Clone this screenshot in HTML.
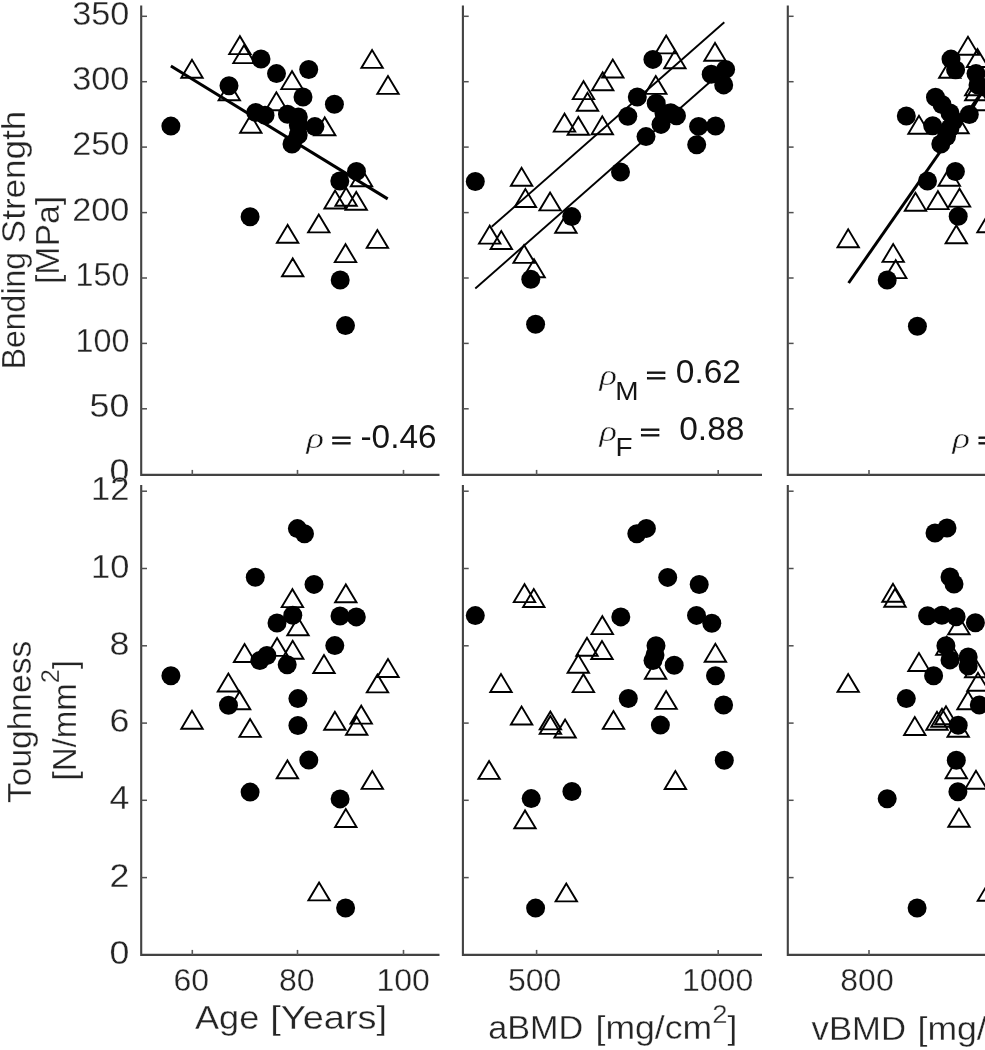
<!DOCTYPE html>
<html><head><meta charset="utf-8"><title>Figure</title>
<style>
html,body{margin:0;padding:0;background:#fff;}
body{width:985px;height:1050px;overflow:hidden;}
svg{display:block;filter:blur(0.62px);}
text{font-family:"Liberation Sans",sans-serif;stroke:#fff;stroke-width:0.3px;}
.tk{font-size:32px;fill:#242424;}
.tky{font-size:33.4px;}
.lb{font-size:32.5px;fill:#242424;}
.rho{font-family:"Liberation Serif",serif;font-style:italic;font-size:29px;fill:#151515;stroke:#fff;stroke-width:0.45px;}
.eq.eqs{stroke:#151515;stroke-width:1.4px;}
.eq{font-size:33.5px;fill:#151515;stroke:none;}
.sub{font-size:25px;fill:#151515;stroke:none;}
</style></head><body>
<svg width="985" height="1050" viewBox="0 0 985 1050">
<rect width="985" height="1050" fill="#fff"/>

<g>
<path d="M141.2,5.6 V474.9 H439.5" fill="none" stroke="#424242" stroke-width="2.1" stroke-linejoin="miter"/>
<path d="M141.2,408.8 h5.8" stroke="#505050" stroke-width="1.5"/>
<path d="M141.2,343.4 h5.8" stroke="#505050" stroke-width="1.5"/>
<path d="M141.2,278.0 h5.8" stroke="#505050" stroke-width="1.5"/>
<path d="M141.2,212.6 h5.8" stroke="#505050" stroke-width="1.5"/>
<path d="M141.2,147.1 h5.8" stroke="#505050" stroke-width="1.5"/>
<path d="M141.2,81.7 h5.8" stroke="#505050" stroke-width="1.5"/>
<path d="M141.2,16.3 h5.8" stroke="#505050" stroke-width="1.5"/>
<path d="M192.3,474.9 v-5" stroke="#5a5a5a" stroke-width="1.6"/>
<path d="M297.5,474.9 v-5" stroke="#5a5a5a" stroke-width="1.6"/>
<path d="M403.5,474.9 v-5" stroke="#5a5a5a" stroke-width="1.6"/>
<path d="M141.2,485.0 V954.9 H439.5" fill="none" stroke="#424242" stroke-width="2.1" stroke-linejoin="miter"/>
<path d="M141.2,877.6 h5.8" stroke="#505050" stroke-width="1.5"/>
<path d="M141.2,800.3 h5.8" stroke="#505050" stroke-width="1.5"/>
<path d="M141.2,723.1 h5.8" stroke="#505050" stroke-width="1.5"/>
<path d="M141.2,645.8 h5.8" stroke="#505050" stroke-width="1.5"/>
<path d="M141.2,568.5 h5.8" stroke="#505050" stroke-width="1.5"/>
<path d="M141.2,491.2 h5.8" stroke="#505050" stroke-width="1.5"/>
<path d="M192.3,954.9 v-5" stroke="#5a5a5a" stroke-width="1.6"/>
<path d="M297.5,954.9 v-5" stroke="#5a5a5a" stroke-width="1.6"/>
<path d="M403.5,954.9 v-5" stroke="#5a5a5a" stroke-width="1.6"/>
<path d="M462.9,5.6 V474.9 H762" fill="none" stroke="#424242" stroke-width="2.1" stroke-linejoin="miter"/>
<path d="M462.9,408.8 h5.8" stroke="#505050" stroke-width="1.5"/>
<path d="M462.9,343.4 h5.8" stroke="#505050" stroke-width="1.5"/>
<path d="M462.9,278.0 h5.8" stroke="#505050" stroke-width="1.5"/>
<path d="M462.9,212.6 h5.8" stroke="#505050" stroke-width="1.5"/>
<path d="M462.9,147.1 h5.8" stroke="#505050" stroke-width="1.5"/>
<path d="M462.9,81.7 h5.8" stroke="#505050" stroke-width="1.5"/>
<path d="M462.9,16.3 h5.8" stroke="#505050" stroke-width="1.5"/>
<path d="M536.6,474.9 v-5" stroke="#5a5a5a" stroke-width="1.6"/>
<path d="M718.2,474.9 v-5" stroke="#5a5a5a" stroke-width="1.6"/>
<path d="M462.9,485.0 V954.9 H762" fill="none" stroke="#424242" stroke-width="2.1" stroke-linejoin="miter"/>
<path d="M462.9,877.6 h5.8" stroke="#505050" stroke-width="1.5"/>
<path d="M462.9,800.3 h5.8" stroke="#505050" stroke-width="1.5"/>
<path d="M462.9,723.1 h5.8" stroke="#505050" stroke-width="1.5"/>
<path d="M462.9,645.8 h5.8" stroke="#505050" stroke-width="1.5"/>
<path d="M462.9,568.5 h5.8" stroke="#505050" stroke-width="1.5"/>
<path d="M462.9,491.2 h5.8" stroke="#505050" stroke-width="1.5"/>
<path d="M536.6,954.9 v-5" stroke="#5a5a5a" stroke-width="1.6"/>
<path d="M718.2,954.9 v-5" stroke="#5a5a5a" stroke-width="1.6"/>
<path d="M787.8,5.6 V474.9 H986" fill="none" stroke="#424242" stroke-width="2.1" stroke-linejoin="miter"/>
<path d="M787.8,408.8 h5.8" stroke="#505050" stroke-width="1.5"/>
<path d="M787.8,343.4 h5.8" stroke="#505050" stroke-width="1.5"/>
<path d="M787.8,278.0 h5.8" stroke="#505050" stroke-width="1.5"/>
<path d="M787.8,212.6 h5.8" stroke="#505050" stroke-width="1.5"/>
<path d="M787.8,147.1 h5.8" stroke="#505050" stroke-width="1.5"/>
<path d="M787.8,81.7 h5.8" stroke="#505050" stroke-width="1.5"/>
<path d="M787.8,16.3 h5.8" stroke="#505050" stroke-width="1.5"/>
<path d="M869.0,474.9 v-5" stroke="#5a5a5a" stroke-width="1.6"/>
<path d="M787.8,485.0 V954.9 H986" fill="none" stroke="#424242" stroke-width="2.1" stroke-linejoin="miter"/>
<path d="M787.8,877.6 h5.8" stroke="#505050" stroke-width="1.5"/>
<path d="M787.8,800.3 h5.8" stroke="#505050" stroke-width="1.5"/>
<path d="M787.8,723.1 h5.8" stroke="#505050" stroke-width="1.5"/>
<path d="M787.8,645.8 h5.8" stroke="#505050" stroke-width="1.5"/>
<path d="M787.8,568.5 h5.8" stroke="#505050" stroke-width="1.5"/>
<path d="M787.8,491.2 h5.8" stroke="#505050" stroke-width="1.5"/>
<path d="M869.0,954.9 v-5" stroke="#5a5a5a" stroke-width="1.6"/>
</g>
<g class="tk tky" text-anchor="end">
<text x="129.4" y="482.4" textLength="19.9" lengthAdjust="spacingAndGlyphs">0</text>
<text x="129.4" y="417.0" textLength="39.8" lengthAdjust="spacingAndGlyphs">50</text>
<text x="129.4" y="351.6" textLength="53.9" lengthAdjust="spacingAndGlyphs">100</text>
<text x="129.4" y="286.2" textLength="53.9" lengthAdjust="spacingAndGlyphs">150</text>
<text x="129.4" y="220.8" textLength="57.2" lengthAdjust="spacingAndGlyphs">200</text>
<text x="129.4" y="155.3" textLength="57.2" lengthAdjust="spacingAndGlyphs">250</text>
<text x="129.4" y="89.9" textLength="57.2" lengthAdjust="spacingAndGlyphs">300</text>
<text x="129.4" y="24.5" textLength="57.2" lengthAdjust="spacingAndGlyphs">350</text>
<text x="129.4" y="964.0" textLength="19.9" lengthAdjust="spacingAndGlyphs">0</text>
<text x="129.4" y="886.7" textLength="19.9" lengthAdjust="spacingAndGlyphs">2</text>
<text x="129.4" y="809.4" textLength="19.9" lengthAdjust="spacingAndGlyphs">4</text>
<text x="129.4" y="732.2" textLength="19.9" lengthAdjust="spacingAndGlyphs">6</text>
<text x="129.4" y="654.9" textLength="19.9" lengthAdjust="spacingAndGlyphs">8</text>
<text x="129.4" y="577.6" textLength="38.3" lengthAdjust="spacingAndGlyphs">10</text>
<text x="129.4" y="500.3" textLength="38.3" lengthAdjust="spacingAndGlyphs">12</text>
</g>
<g class="tk" text-anchor="middle">
<text x="191.2" y="991.3">60</text>
<text x="296.8" y="991.3">80</text>
<text x="403.2" y="991.3">100</text>
<text x="534.6" y="991.3">500</text>
<text x="717.6" y="991.3">1000</text>
<text x="867" y="991.3">800</text>
</g>
<g class="lb">
<text x="195.0" y="1029.3" textLength="64.2" lengthAdjust="spacingAndGlyphs">Age</text>
<text x="270.3" y="1029.3" textLength="116.8" lengthAdjust="spacingAndGlyphs">[Years]</text>
<text x="488.3" y="1039.4" textLength="95" lengthAdjust="spacingAndGlyphs">aBMD</text>
<text x="595.5" y="1039.4" textLength="141.8" lengthAdjust="spacingAndGlyphs">[mg/cm<tspan font-size="25" dy="-16.5">2</tspan><tspan dy="16.5">]</tspan></text>
<text x="811.6" y="1040.2" textLength="94.4" lengthAdjust="spacingAndGlyphs">vBMD</text>
<text x="917.5" y="1040.2" textLength="141.8" lengthAdjust="spacingAndGlyphs">[mg/cm<tspan font-size="25" dy="-16.5">3</tspan><tspan dy="16.5">]</tspan></text>
<text transform="translate(25.3,369.2) rotate(-90)" textLength="117.2" lengthAdjust="spacingAndGlyphs">Bending</text>
<text transform="translate(25.3,243.2) rotate(-90)" textLength="132.4" lengthAdjust="spacingAndGlyphs">Strength</text>
<text transform="translate(59.2,284) rotate(-90)" textLength="88" lengthAdjust="spacingAndGlyphs">[MPa]</text>
<text transform="translate(30.9,803) rotate(-90)" textLength="162.2" lengthAdjust="spacingAndGlyphs">Toughness</text>
<text transform="translate(75.5,780.5) rotate(-90)" textLength="120.5" lengthAdjust="spacingAndGlyphs">[N/mm<tspan font-size="25" dy="-16.5">2</tspan><tspan dy="16.5">]</tspan></text>
</g>
<g stroke="#000" fill="none" stroke-linecap="butt">
<path d="M170.9,66 L387.7,198.9" stroke-width="3"/>
<path d="M491.7,226.8 L724.3,22.2" stroke-width="1.9"/>
<path d="M475.3,288.5 L725.6,68.2" stroke-width="1.9"/>
<path d="M848.6,283 L985,87.5" stroke-width="3"/>
</g>
<g fill="none" stroke="#000" stroke-width="1.9" stroke-linejoin="miter">
<path d="M192.0,59.8l-10.7,17.9h21.4zM239.9,36.2l-10.7,17.9h21.4zM244.0,45.2l-10.7,17.9h21.4zM229.3,82.4l-10.7,17.9h21.4zM292.0,71.2l-10.7,17.9h21.4zM276.4,92.3l-10.7,17.9h21.4zM250.8,114.8l-10.7,17.9h21.4zM372.1,50.0l-10.7,17.9h21.4zM388.0,76.0l-10.7,17.9h21.4zM324.7,117.4l-10.7,17.9h21.4zM361.5,168.3l-10.7,17.9h21.4zM335.1,190.6l-10.7,17.9h21.4zM346.1,187.8l-10.7,17.9h21.4zM356.2,191.9l-10.7,17.9h21.4zM318.8,214.5l-10.7,17.9h21.4zM287.6,224.9l-10.7,17.9h21.4zM377.4,230.0l-10.7,17.9h21.4zM345.5,244.2l-10.7,17.9h21.4zM292.7,258.4l-10.7,17.9h21.4z"/>
<path d="M583.5,81.2l-10.7,17.9h21.4zM587.5,92.8l-10.7,17.9h21.4zM564.5,113.7l-10.7,17.9h21.4zM578.3,116.9l-10.7,17.9h21.4zM602.3,116.3l-10.7,17.9h21.4zM602.7,72.3l-10.7,17.9h21.4zM666.2,35.5l-10.7,17.9h21.4zM674.9,50.3l-10.7,17.9h21.4zM715.0,42.9l-10.7,17.9h21.4zM612.8,59.6l-10.7,17.9h21.4zM655.8,76.0l-10.7,17.9h21.4zM521.6,167.8l-10.7,17.9h21.4zM525.4,189.1l-10.7,17.9h21.4zM550.1,192.5l-10.7,17.9h21.4zM565.9,214.8l-10.7,17.9h21.4zM489.7,225.7l-10.7,17.9h21.4zM501.3,231.1l-10.7,17.9h21.4zM524.1,245.0l-10.7,17.9h21.4zM534.1,259.3l-10.7,17.9h21.4z"/>
<path d="M968.0,36.8l-10.7,17.9h21.4zM977.5,49.1l-10.7,17.9h21.4zM949.8,59.8l-10.7,17.9h21.4zM919.0,115.8l-10.7,17.9h21.4zM958.0,115.3l-10.7,17.9h21.4zM949.3,167.8l-10.7,17.9h21.4zM915.5,192.8l-10.7,17.9h21.4zM937.9,191.2l-10.7,17.9h21.4zM959.5,188.7l-10.7,17.9h21.4zM848.2,229.3l-10.7,17.9h21.4zM893.2,244.0l-10.7,17.9h21.4zM895.7,260.2l-10.7,17.9h21.4zM956.3,225.4l-10.7,17.9h21.4zM988.0,214.3l-10.7,17.9h21.4zM975.8,77.4l-10.7,17.9h21.4zM975.8,82.3l-10.7,17.9h21.4zM982.5,92.3l-10.7,17.9h21.4z"/>
<path d="M292.4,589.2l-10.7,17.9h21.4zM298.0,617.3l-10.7,17.9h21.4zM277.1,638.0l-10.7,17.9h21.4zM292.7,640.8l-10.7,17.9h21.4zM244.6,644.1l-10.7,17.9h21.4zM324.0,655.1l-10.7,17.9h21.4zM228.4,673.6l-10.7,17.9h21.4zM345.8,584.4l-10.7,17.9h21.4zM388.0,659.1l-10.7,17.9h21.4zM377.5,674.5l-10.7,17.9h21.4zM361.2,705.7l-10.7,17.9h21.4zM334.9,711.8l-10.7,17.9h21.4zM239.6,691.4l-10.7,17.9h21.4zM192.0,710.8l-10.7,17.9h21.4zM250.1,719.0l-10.7,17.9h21.4zM287.4,760.4l-10.7,17.9h21.4zM356.7,716.8l-10.7,17.9h21.4zM372.3,771.0l-10.7,17.9h21.4zM345.8,809.1l-10.7,17.9h21.4zM319.1,882.5l-10.7,17.9h21.4z"/>
<path d="M524.5,584.2l-10.7,17.9h21.4zM533.8,589.1l-10.7,17.9h21.4zM602.3,616.2l-10.7,17.9h21.4zM587.0,637.8l-10.7,17.9h21.4zM602.0,641.1l-10.7,17.9h21.4zM578.3,654.8l-10.7,17.9h21.4zM583.4,674.2l-10.7,17.9h21.4zM655.6,660.8l-10.7,17.9h21.4zM715.4,643.8l-10.7,17.9h21.4zM666.1,691.0l-10.7,17.9h21.4zM501.0,674.1l-10.7,17.9h21.4zM521.6,706.6l-10.7,17.9h21.4zM550.4,711.5l-10.7,17.9h21.4zM550.4,716.0l-10.7,17.9h21.4zM565.1,719.6l-10.7,17.9h21.4zM489.1,761.0l-10.7,17.9h21.4zM613.5,711.0l-10.7,17.9h21.4zM675.4,771.1l-10.7,17.9h21.4zM525.0,810.4l-10.7,17.9h21.4zM566.3,883.5l-10.7,17.9h21.4z"/>
<path d="M893.0,583.8l-10.7,17.9h21.4zM895.0,588.8l-10.7,17.9h21.4zM848.2,674.0l-10.7,17.9h21.4zM919.0,653.1l-10.7,17.9h21.4zM958.9,616.3l-10.7,17.9h21.4zM946.8,636.8l-10.7,17.9h21.4zM978.0,672.8l-10.7,17.9h21.4zM975.7,659.3l-10.7,17.9h21.4zM914.8,717.1l-10.7,17.9h21.4zM937.0,711.8l-10.7,17.9h21.4zM942.0,708.8l-10.7,17.9h21.4zM946.0,706.3l-10.7,17.9h21.4zM958.2,718.8l-10.7,17.9h21.4zM968.0,691.3l-10.7,17.9h21.4zM956.3,760.4l-10.7,17.9h21.4zM976.0,770.8l-10.7,17.9h21.4zM959.0,808.8l-10.7,17.9h21.4zM988.4,882.8l-10.7,17.9h21.4z"/>
</g>
<g fill="#000">
<circle cx="170.9" cy="126.1" r="9.5"/>
<circle cx="261" cy="59" r="9.5"/>
<circle cx="276.5" cy="73.6" r="9.5"/>
<circle cx="308.7" cy="69.5" r="9.5"/>
<circle cx="229" cy="85.8" r="9.5"/>
<circle cx="303" cy="97" r="9.5"/>
<circle cx="334.4" cy="104.3" r="9.5"/>
<circle cx="255.8" cy="112.5" r="9.5"/>
<circle cx="265" cy="115.2" r="9.5"/>
<circle cx="287.5" cy="114.3" r="9.5"/>
<circle cx="298.3" cy="117" r="9.5"/>
<circle cx="298.3" cy="125" r="9.5"/>
<circle cx="298.2" cy="135" r="9.5"/>
<circle cx="314.9" cy="126.6" r="9.5"/>
<circle cx="292" cy="144" r="9.5"/>
<circle cx="356.5" cy="171.4" r="9.5"/>
<circle cx="339.8" cy="181" r="9.5"/>
<circle cx="250.1" cy="216.8" r="9.5"/>
<circle cx="340.2" cy="280" r="9.5"/>
<circle cx="345.5" cy="325.6" r="9.5"/>
<circle cx="475.3" cy="181.5" r="9.5"/>
<circle cx="652.9" cy="59.4" r="9.5"/>
<circle cx="637.3" cy="97" r="9.5"/>
<circle cx="627.8" cy="116.3" r="9.5"/>
<circle cx="646" cy="136.6" r="9.5"/>
<circle cx="620.5" cy="172" r="9.5"/>
<circle cx="656.2" cy="103.2" r="9.5"/>
<circle cx="670.7" cy="112.8" r="9.5"/>
<circle cx="676.5" cy="115.7" r="9.5"/>
<circle cx="664" cy="113.5" r="9.5"/>
<circle cx="661" cy="124.4" r="9.5"/>
<circle cx="711.2" cy="74.3" r="9.5"/>
<circle cx="725.6" cy="69.4" r="9.5"/>
<circle cx="723.7" cy="84.9" r="9.5"/>
<circle cx="698.6" cy="126.4" r="9.5"/>
<circle cx="715.6" cy="126" r="9.5"/>
<circle cx="696.7" cy="144.7" r="9.5"/>
<circle cx="571.7" cy="216.6" r="9.5"/>
<circle cx="530.8" cy="279.3" r="9.5"/>
<circle cx="535.6" cy="324.2" r="9.5"/>
<circle cx="951" cy="59.1" r="9.5"/>
<circle cx="955.6" cy="69.7" r="9.5"/>
<circle cx="976" cy="73.6" r="9.5"/>
<circle cx="978" cy="85" r="9.5"/>
<circle cx="935.5" cy="97.2" r="9.5"/>
<circle cx="942" cy="104.5" r="9.5"/>
<circle cx="950" cy="113" r="9.5"/>
<circle cx="954" cy="120.6" r="9.5"/>
<circle cx="906.3" cy="116" r="9.5"/>
<circle cx="969.3" cy="114.5" r="9.5"/>
<circle cx="932.7" cy="125.7" r="9.5"/>
<circle cx="950" cy="128" r="9.5"/>
<circle cx="946.5" cy="136.5" r="9.5"/>
<circle cx="940.8" cy="144" r="9.5"/>
<circle cx="955.4" cy="171.5" r="9.5"/>
<circle cx="927.5" cy="181" r="9.5"/>
<circle cx="958.2" cy="216.3" r="9.5"/>
<circle cx="887.2" cy="280" r="9.5"/>
<circle cx="917.4" cy="326.2" r="9.5"/>
<circle cx="297.4" cy="528.6" r="9.5"/>
<circle cx="304.5" cy="533.7" r="9.5"/>
<circle cx="255.3" cy="577.3" r="9.5"/>
<circle cx="314" cy="584.4" r="9.5"/>
<circle cx="277" cy="623" r="9.5"/>
<circle cx="292.8" cy="615.2" r="9.5"/>
<circle cx="340" cy="616" r="9.5"/>
<circle cx="356.3" cy="616.9" r="9.5"/>
<circle cx="334.8" cy="645.6" r="9.5"/>
<circle cx="259.8" cy="660.6" r="9.5"/>
<circle cx="266.9" cy="655.5" r="9.5"/>
<circle cx="287.2" cy="664.8" r="9.5"/>
<circle cx="170.9" cy="675.8" r="9.5"/>
<circle cx="297.9" cy="698.6" r="9.5"/>
<circle cx="297.9" cy="725.5" r="9.5"/>
<circle cx="228.5" cy="705.2" r="9.5"/>
<circle cx="308.8" cy="760.1" r="9.5"/>
<circle cx="250.1" cy="792.1" r="9.5"/>
<circle cx="340.1" cy="798.9" r="9.5"/>
<circle cx="345.6" cy="908" r="9.5"/>
<circle cx="475.3" cy="615.6" r="9.5"/>
<circle cx="646.4" cy="528.4" r="9.5"/>
<circle cx="636.8" cy="533.7" r="9.5"/>
<circle cx="667.7" cy="577.4" r="9.5"/>
<circle cx="699.2" cy="584.5" r="9.5"/>
<circle cx="620.8" cy="616.9" r="9.5"/>
<circle cx="696.5" cy="615.4" r="9.5"/>
<circle cx="711.8" cy="623.3" r="9.5"/>
<circle cx="656" cy="645.8" r="9.5"/>
<circle cx="653" cy="660.6" r="9.5"/>
<circle cx="655" cy="655" r="9.5"/>
<circle cx="674.2" cy="665.2" r="9.5"/>
<circle cx="715.5" cy="675.7" r="9.5"/>
<circle cx="628.3" cy="698.5" r="9.5"/>
<circle cx="723.6" cy="705" r="9.5"/>
<circle cx="660.4" cy="725.1" r="9.5"/>
<circle cx="724.3" cy="760.3" r="9.5"/>
<circle cx="571.9" cy="791.5" r="9.5"/>
<circle cx="531.2" cy="798.6" r="9.5"/>
<circle cx="535.6" cy="908.1" r="9.5"/>
<circle cx="947" cy="528" r="9.5"/>
<circle cx="935" cy="533" r="9.5"/>
<circle cx="950" cy="577" r="9.5"/>
<circle cx="954" cy="584" r="9.5"/>
<circle cx="927.6" cy="615.7" r="9.5"/>
<circle cx="941.9" cy="615.2" r="9.5"/>
<circle cx="956.1" cy="616.8" r="9.5"/>
<circle cx="975.4" cy="622.8" r="9.5"/>
<circle cx="945.9" cy="645.7" r="9.5"/>
<circle cx="950" cy="659.9" r="9.5"/>
<circle cx="968.2" cy="656.9" r="9.5"/>
<circle cx="968.2" cy="666" r="9.5"/>
<circle cx="933.6" cy="675.7" r="9.5"/>
<circle cx="906.3" cy="698.6" r="9.5"/>
<circle cx="979.3" cy="705" r="9.5"/>
<circle cx="958.2" cy="725.2" r="9.5"/>
<circle cx="956.3" cy="760.2" r="9.5"/>
<circle cx="957.9" cy="791.8" r="9.5"/>
<circle cx="887.2" cy="798.7" r="9.5"/>
<circle cx="917.1" cy="908" r="9.5"/>
</g>
<text class="rho" transform="translate(306.6,448.4) scale(1.26,1)">ρ</text>
<text class="eq eqs" transform="translate(331.2,447.6) scale(1.04,0.68)">=</text>
<text class="eq" x="360.5" y="447.8" textLength="76" lengthAdjust="spacingAndGlyphs">-0.46</text>
<text class="rho" transform="translate(599.5,384.6) scale(1.26,1)">ρ</text>
<text class="sub" x="615.2" y="400" textLength="23.3" lengthAdjust="spacingAndGlyphs">M</text>
<text class="eq eqs" transform="translate(645.9,382.9) scale(1.04,0.68)">=</text>
<text class="eq" x="675.8" y="383.1">0.62</text>
<text class="rho" transform="translate(599.5,441.2) scale(1.26,1)">ρ</text>
<text class="sub" x="615.4" y="456.1" textLength="17.1" lengthAdjust="spacingAndGlyphs">F</text>
<text class="eq eqs" transform="translate(639.9,439.9) scale(1.04,0.68)">=</text>
<text class="eq" x="679.2" y="440.1">0.88</text>
<text class="rho" transform="translate(952.6,448.4) scale(1.26,1)">ρ</text>
<text class="eq eqs" transform="translate(977.4,447.6) scale(1.04,0.68)">=</text>
</svg></body></html>
